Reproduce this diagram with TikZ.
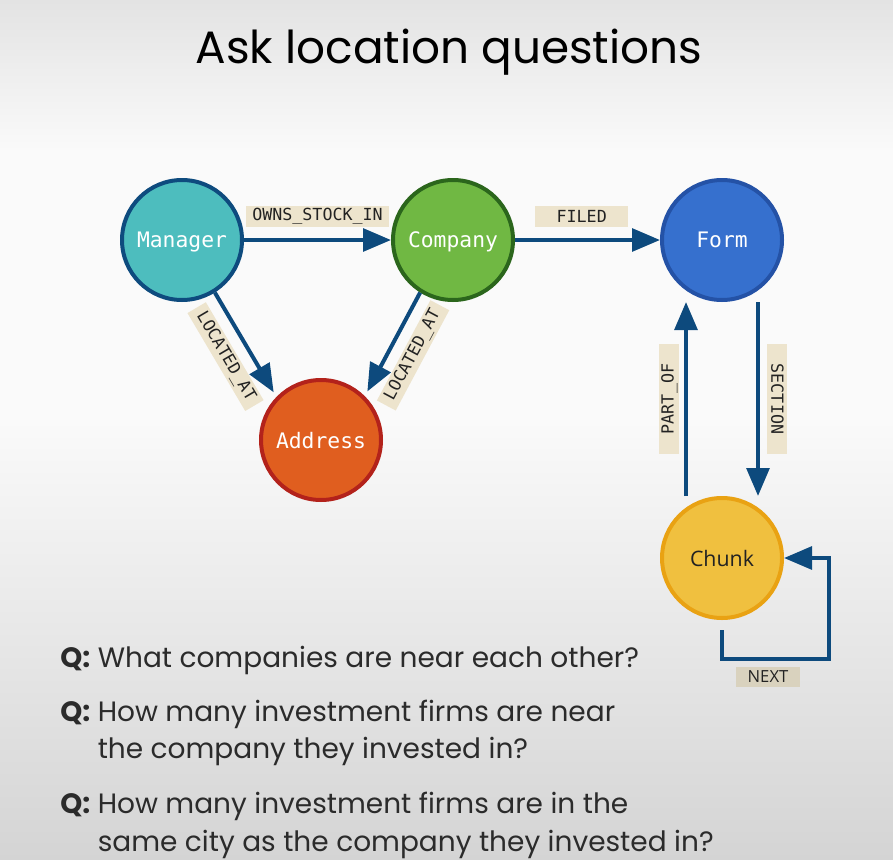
\documentclass[tikz,border=0pt]{standalone}
\usepackage{fontspec}
\setmainfont{Poppins}
\newfontfamily\monofont{DejaVu Sans Mono}
\newfontfamily\opensans{Open Sans}
\usetikzlibrary{arrows.meta}
\definecolor{arrowblue}{HTML}{0D4A7D}
\definecolor{mgrfill}{HTML}{4DBDBE}
\definecolor{mgrdraw}{HTML}{0E4B7E}
\definecolor{compfill}{HTML}{70B843}
\definecolor{compdraw}{HTML}{2B661C}
\definecolor{formfill}{HTML}{3670CE}
\definecolor{formdraw}{HTML}{2452A6}
\definecolor{addrfill}{HTML}{E05E1F}
\definecolor{addrdraw}{HTML}{B3221B}
\definecolor{chunkfill}{HTML}{F0C03F}
\definecolor{chunkdraw}{HTML}{E9A213}
\definecolor{labelbg}{HTML}{EDE4CD}
\definecolor{nextbg}{HTML}{D9D2BE}
\definecolor{labeltext}{HTML}{222222}
\definecolor{qcolor}{HTML}{2B2B2B}
\definecolor{bgtop}{HTML}{E3E3E3}
\definecolor{bgmid}{HTML}{FAFAFA}
\definecolor{bgbot}{HTML}{D4D4D4}
\tikzset{
  ent/.style={circle, minimum size=90pt, line width=3pt, inner sep=0pt,
    text depth=0pt, font=\monofont\fontsize{16}{19}\selectfont, text=white},
  rel/.style={-{Triangle[length=21pt,width=17pt]}, line width=3pt, draw=arrowblue},
  elabel/.style={fill=labelbg, font=\monofont\fontsize{12.5}{15}\selectfont,
    text=labeltext, inner xsep=5pt, inner ysep=0pt, minimum height=16pt},
  nextlabel/.style={fill=nextbg, font=\opensans\fontsize{12.5}{15}\selectfont,
    text=labeltext, inner sep=0pt, minimum height=15.5pt, minimum width=48pt},
  qtext/.style={anchor=base west, inner sep=0pt, text=qcolor,
    font=\fontsize{21}{25}\selectfont},
  titletext/.style={anchor=base, inner sep=0pt, text=black,
    font=\fontsize{34}{40}\selectfont}
}
\begin{document}
\begin{tikzpicture}[x=0.75pt, y=-0.75pt]
  % background
  \useasboundingbox (0,0) rectangle (893,860);
  \shade[top color=bgtop, bottom color=bgmid] (0,0) rectangle (893,151);
  \fill[bgmid] (0,150) rectangle (893,421);
  \shade[top color=bgmid, bottom color=bgbot] (0,420) rectangle (893,860);

  % title
  \node[titletext] (title) at (449,63) {Ask location questions};

  % entities
  \node[ent, fill=mgrfill, draw=mgrdraw] (Manager) at (182,240) {Manager};
  \node[ent, fill=compfill, draw=compdraw] (Company) at (453,240) {Company};
  \node[ent, fill=formfill, draw=formdraw] (Form) at (722,240) {Form};
  \node[ent, fill=addrfill, draw=addrdraw] (Address) at (321,440) {Address};
  \node[ent, fill=chunkfill, draw=chunkdraw, text=labeltext,
        font=\opensans\fontsize{16}{19}\selectfont] (Chunk) at (722,558) {Chunk};

  % relations
  \draw[rel] (Manager) -- (Company)
    node[elabel, midway, above, outer ysep=9.5pt] (lown) {OWNS\_STOCK\_IN};
  \draw[rel] (Company) -- (Form)
    node[elabel, pos=0.46, above, outer ysep=9.5pt, minimum width=70pt] (lfiled) {FILED};
  \draw[rel, shorten >=4pt] (Manager.-58) -- (Address.136)
    node[elabel, midway, sloped, below, outer ysep=9.5pt] (lloc1) {LOCATED\_AT};
  \draw[rel, shorten >=4pt] (Company.-122) -- (Address.45)
    node[elabel, midway, sloped, below, outer ysep=9.5pt] (lloc2) {LOCATED\_AT};
  \draw[rel] ([xshift=-27pt]Chunk.north) -- ([xshift=-27pt]Form.south)
    node[elabel, midway, rotate=90, above, outer ysep=5pt, minimum width=82pt,
         minimum height=15pt] (lpart) {PART\_OF};
  \draw[rel] ([xshift=27pt]Form.south) -- ([xshift=27pt]Chunk.north)
    node[elabel, midway, rotate=-90, above, outer ysep=7pt, minimum width=82pt,
         minimum height=15pt] (lsect) {SECTION};
  \coordinate (nextcorner) at (829,659);
  \draw[rel] ([yshift=-7.5pt]Chunk.south) |- (nextcorner) |- (Chunk.east);
  \node[nextlabel] (lnext) at (768,677) {NEXT};

  % questions
  \node[qtext] (q1) at (60,667) {\textbf{Q:} What companies are near each other?};
  \node[qtext] (q2a) at (60,721) {\textbf{Q:} How many investment firms are near};
  \node[qtext] (q2b) at (60,758) {\hphantom{\textbf{Q:} }the company they invested in?};
  \node[qtext] (q3a) at (60,813) {\textbf{Q:} How many investment firms are in the};
  \node[qtext] (q3b) at (60,851) {\hphantom{\textbf{Q:} }same city as the company they invested in?};
\end{tikzpicture}
\end{document}
